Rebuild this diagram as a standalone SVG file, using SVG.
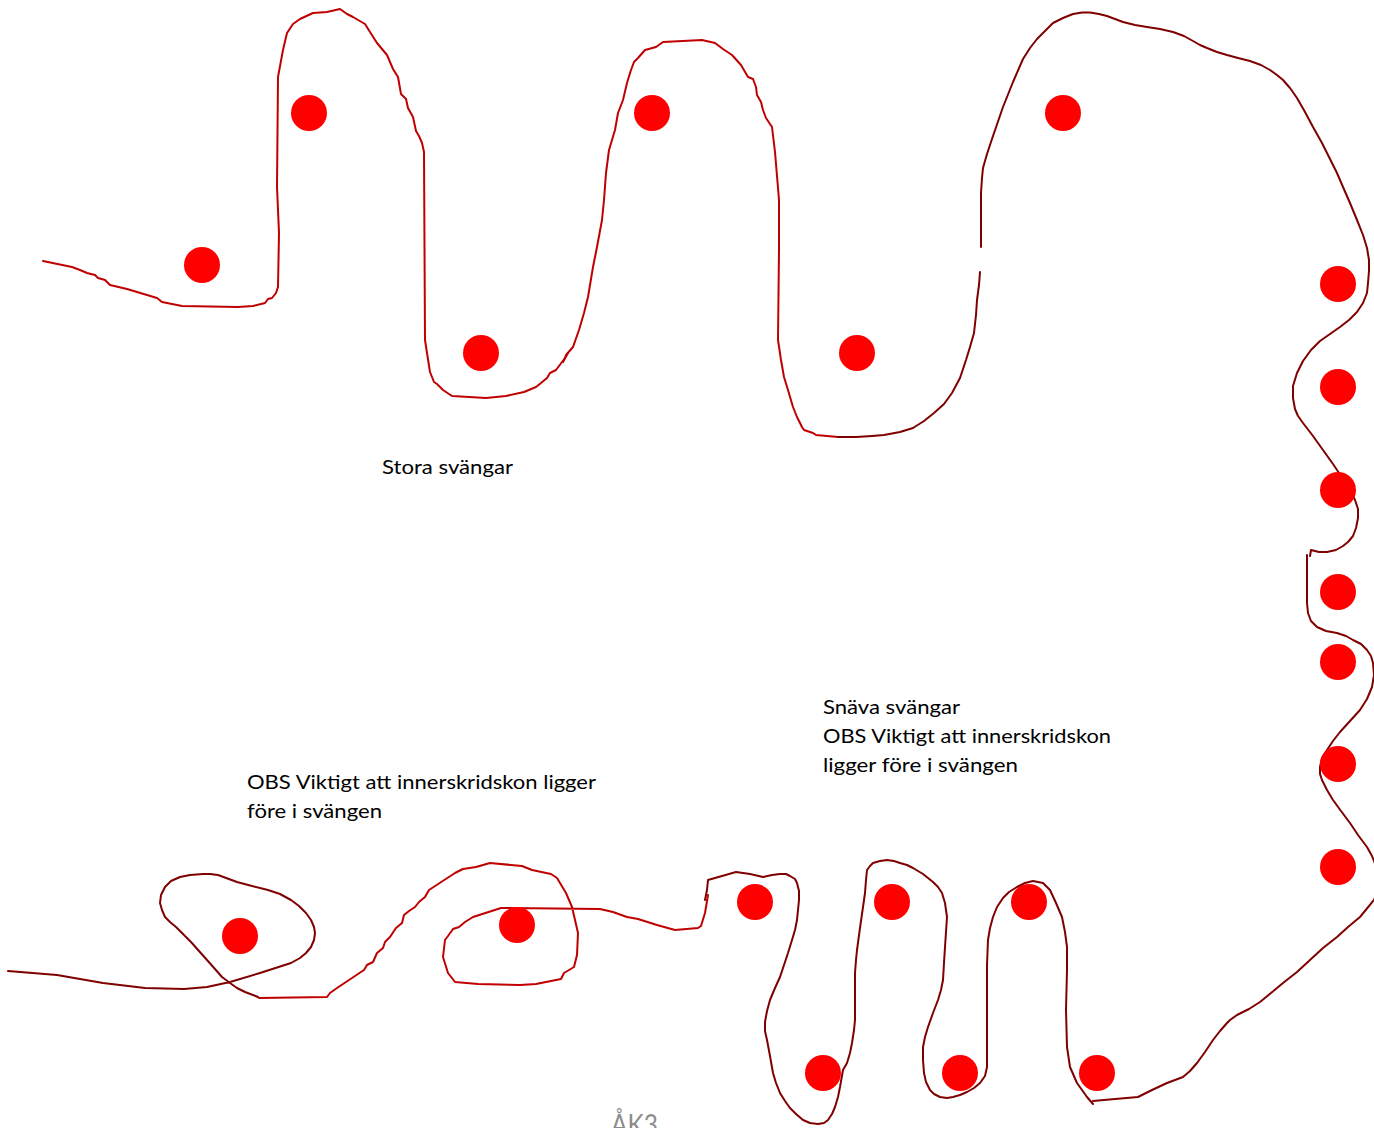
<svg xmlns="http://www.w3.org/2000/svg" width="1374" height="1128" viewBox="0 0 1374 1128">
<style>
.bright{fill:none;stroke:#c00000;stroke-width:2;stroke-linejoin:round;stroke-linecap:round}
.dark{fill:none;stroke:#7f0000;stroke-width:2;stroke-linejoin:round;stroke-linecap:round}
.cone{fill:#ff0000}
.lbl{font-family:Lato,"Open Sans","Liberation Sans",sans-serif;font-size:20px;fill:#000}
.title{font-family:Lato,"Open Sans","Liberation Sans",sans-serif;font-size:28px;fill:#8c8c8c}
</style>
<rect width="1374" height="1128" fill="#fff"/>
<g id="track">
<path class="bright" d="M43,261 L72,267 80,270 87,273 95,275 98,278 105,280 110,285 127,289 157,298 162,302 182,306 238,307 253,306 265,303 268,299 272,298 276,293 278,287 279,233 277,187 278,77 283,50 287,33 293,24 300,19 313,13 327,12 340,9 347,14 353,17 365,24 370,32 377,43 387,55 393,69 398,77 401,94 406,99 408,108 413,117 416,131 419,136 422,143 424,152 425,340 427,353 430,372 434,382 437,384 443,390 452,396 486,398 506,396 524,392 536,387 541,383 547,378 550,373 556,370 565,358 566,355 573,347 579,330 584,313 588,297 593,267 597,247 602,220 604,200 606,173 609,150 615,130 618,113 623,100 627,83 631,70 634,62 638,58 645,50 656,47 663,42 702,40 715,43 723,49 732,55 741,65 748,77 753,79 756,87 757,95 761,102 763,110 766,118 772,127 775,152 779,200 779,250 778,340 781,360 784,377 788,390 793,407 797,417 802,427 804,430 813,433 816,435 838,437"/>
<path class="bright" d="M563,362 L568,353"/>
<path class="dark" d="M838,437 L856,437 872,436 884,435 900,432 913,428 924,421 934,413 944,404 952,393 960,378 966,360 970,347 974,333 976,315 977,300 979,285 980,272"/>
<path class="dark" d="M981,247 L981,220 981,193 982,178 983,168 987,154 993,136 1003,107 1013,82 1023,59 1030,48 1037,39 1045,31 1053,23 1063,18 1073,14 1082,12.5 1090,12.5 1099,14 1107,16 1115,19 1123,22 1135,25 1147,27 1160,29 1173,32 1184,36 1193,41 1200,45 1207,48 1217,52 1227,55 1238,58 1250,61 1261,65 1270,70 1277,75 1283,80 1290,88 1297,98 1305,112 1313,127 1322,143 1330,159 1337,173 1343,187 1350,203 1357,220 1363,235 1367,248 1369,260 1369,271 1368,283 1367,293 1363,303 1357,312 1349,320 1340,327 1330,334 1320,341 1311,350 1303,361 1297,373 1293,386 1293,398 1295,409 1298,416 1303,423 1313,436 1323,450 1333,464 1343,479 1350,490 1355,500 1358,509 1358,518 1356,528 1353,536 1348,542 1343,546 1336,550 1327,552 1319,552 1311,550 L1310,556"/>
<path class="dark" d="M1307,555 L1307,572 1307,590 1307,603 1308,613 1311,621 1317,627 1326,631 1337,633 1346,636 1353,640 1361,644 1367,650 1371,656 1373,663 1374,675 1372,687 1367,699 1360,710 1350,721 1340,732 1333,741 1327,750 1322,758 1320,767 1320,774 1322,780 1327,790 1333,800 1341,811 1350,823 1358,835 1367,847 1372,856 1376,866 1379,880 1377,892 1374,900 1360,917 1348,927 1337,937 1323,948 1310,960 1297,972 1283,983 1271,993 1260,1002 1249,1009 1237,1015 1230,1020 1227,1023 1220,1031 1213,1040 1205,1052 1197,1063 1190,1071 1183,1077 1175,1080 1167,1083 1152,1090 1138,1097 1115,1099 1093,1101"/>
<path class="dark" d="M705,900 L707,890 708,880 722,876 736,872 750,874 763,877 772,875 780,874 786,874 790,876 795,879 797,883 799,891 799,900 798,910 797,920 795,930 792,940 788,953 784,965 780,977 775,988 770,1000 767,1011 765,1022 765,1031 767,1040 770,1056 773,1073 776,1083 780,1093 785,1101 790,1108 796,1114 803,1120 810,1123 818,1124 824,1123 828,1120 832,1114 835,1107 838,1097 840,1087 843,1070 847,1063 850,1053 852,1043 854,1030 855,1020 855,997 855,973 856,960 857,950 860,928 863,907 865,893 866,880 867,870 870,866 873,863 880,861 887,860 894,861 900,863 907,865 913,868 923,874 933,882 938,887 942,893 945,903 947,917 946,932 945,947 944,963 943,980 941,990 938,1000 933,1013 928,1027 925,1037 923,1047 923,1060 924,1073 926,1082 930,1090 934,1094 940,1097 947,1098 953,1097 960,1095 967,1092 974,1088 980,1083 985,1076 987,1067 987,1053 987,1040 987,1015 987,990 987,965 988,940 990,928 993,917 997,907 1003,898 1009,892 1017,887 1025,883 1033,881 1043,883 1050,890 1056,903 1062,917 1065,932 1067,947 1067,970 1066,1010 1067,1047 1070,1067 1077,1083 1087,1097 1093,1104"/>
<path class="bright" d="M259,998 L327,997 330,993 337,988 364,970 367,965 373,962 377,953 383,948 385,942 390,937 396,928 402,923 404,915 409,911 415,907 419,902 425,897 429,890 455,873 463,869 476,867 490,863 522,866 532,870 551,874 557,878 566,893 572,907 578,933 577,955 574,967 564,973 561,979 536,984 520,985 478,984 455,982 448,973 443,957 445,940 448,936 453,929 459,927 465,922 473,917 501,908 600,909 613,912 627,917 638,919 657,925 675,930 698,928 701,926 705,913 708,895"/>
<path class="dark" d="M8,971 L57,975 103,983 145,988 184,989 207,987 230,982 260,973 291,963 300,958 306,953 311,947 314,940 315,933 314,927 311,920 306,913 299,906 291,900 280,894 268,890 252,886 237,882 218,875 210,874 203,874 190,875 180,877 171,881 165,887 161,895 160,903 162,910 165,917 170,922 176,927 183,934 191,942 199,951 207,960 215,969 222,977 230,983 237,988 245,992 253,995 258,997"/>
</g>
<g id="cones">
<circle id="cone1" class="cone" cx="202" cy="265" r="18"/>
<circle id="cone2" class="cone" cx="309" cy="113" r="18"/>
<circle id="cone3" class="cone" cx="481" cy="353" r="18"/>
<circle id="cone4" class="cone" cx="652" cy="113" r="18"/>
<circle id="cone5" class="cone" cx="857" cy="353" r="18"/>
<circle id="cone6" class="cone" cx="1063" cy="113" r="18"/>
<circle id="cone7" class="cone" cx="1338" cy="284" r="18"/>
<circle id="cone8" class="cone" cx="1338" cy="387" r="18"/>
<circle id="cone9" class="cone" cx="1338" cy="490" r="18"/>
<circle id="cone10" class="cone" cx="1338" cy="592" r="18"/>
<circle id="cone11" class="cone" cx="1338" cy="662" r="18"/>
<circle id="cone12" class="cone" cx="1338" cy="764" r="18"/>
<circle id="cone13" class="cone" cx="1338" cy="867" r="18"/>
<circle id="cone14" class="cone" cx="240" cy="936" r="18"/>
<circle id="cone15" class="cone" cx="517" cy="925" r="18"/>
<circle id="cone16" class="cone" cx="755" cy="902" r="18"/>
<circle id="cone17" class="cone" cx="892" cy="902" r="18"/>
<circle id="cone18" class="cone" cx="1029" cy="902" r="18"/>
<circle id="cone19" class="cone" cx="823" cy="1073" r="18"/>
<circle id="cone20" class="cone" cx="960" cy="1073" r="18"/>
<circle id="cone21" class="cone" cx="1097" cy="1073" r="18"/>
</g>
<g id="labels">
<text class="lbl" x="382" y="474" textLength="131" lengthAdjust="spacingAndGlyphs">Stora svängar</text>
<text class="lbl" x="823" y="714" textLength="137" lengthAdjust="spacingAndGlyphs">Snäva svängar</text>
<text class="lbl" x="823" y="743" textLength="288" lengthAdjust="spacingAndGlyphs">OBS Viktigt att innerskridskon</text>
<text class="lbl" x="823" y="772" textLength="195" lengthAdjust="spacingAndGlyphs">ligger före i svängen</text>
<text class="lbl" x="247" y="789" textLength="349" lengthAdjust="spacingAndGlyphs">OBS Viktigt att innerskridskon ligger</text>
<text class="lbl" x="247" y="818" textLength="135" lengthAdjust="spacingAndGlyphs">före i svängen</text>
<text class="title" x="611" y="1135" textLength="47" lengthAdjust="spacingAndGlyphs">ÅK3</text>
</g>
</svg>
